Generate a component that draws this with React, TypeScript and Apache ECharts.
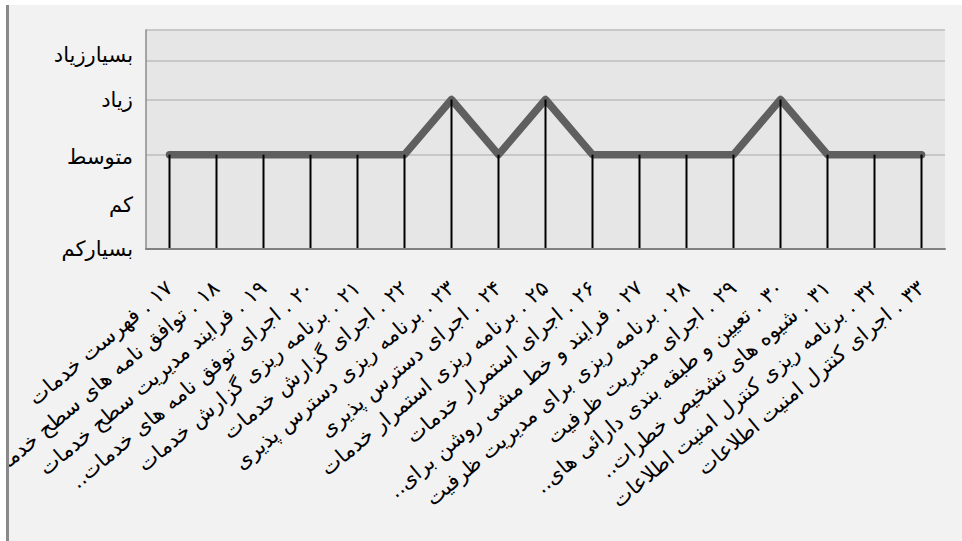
import React, { useEffect, useRef } from "react";
import * as echarts from "echarts";

const categories = [
  "۱۷ . فهرست خدمات",
  "۱۸ . توافق نامه های سطح خدمات",
  "۱۹ . فرایند مدیریت سطح خدمات",
  "۲۰ . اجرای توفق نامه های خدمات..",
  "۲۱ . برنامه ریزی گزارش خدمات",
  "۲۲ . اجرای گزارش خدمات",
  "۲۳ . برنامه ریزی دسترس پذیری",
  "۲۴ . اجرای دسترس پذیری",
  "۲۵ . برنامه ریزی استمرار خدمات",
  "۲۶ . اجرای استمرار خدمات",
  "۲۷ . فرایند و خط مشی روشن برای..",
  "۲۸ . برنامه ریزی برای مدیریت ظرفیت",
  "۲۹ . اجرای مدیریت ظرفیت",
  "۳۰ . تعیین و طبقه بندی دارائی های..",
  "۳۱ . شیوه های تشخیص خطرات..",
  "۳۲ . برنامه ریزی کنترل امنیت اطلاعات",
  "۳۳ . اجرای کنترل امنیت اطلاعات",
];

// 1 = بسیارکم ... 2 = متوسط, 3 = زیاد
const levels = [2, 2, 2, 2, 2, 2, 3, 2, 3, 2, 2, 2, 2, 3, 2, 2, 2];

const yGridValues = [1, 2, 3, 4, 5];
const yLabelValues = [1, 1.38, 1.96, 3, 4.16];
const yLabelTexts = ["بسیارکم", "کم", "متوسط", "زیاد", "بسیارزیاد"];

const FONT = "'DejaVu Sans', Arial, sans-serif";
const RLM = "\u200F";

export default function App() {
  const ref = useRef<HTMLDivElement>(null);

  useEffect(() => {
    if (!ref.current) return;
    const chart = echarts.init(ref.current, undefined, { renderer: "svg" });
    chart.setOption({
      animation: false,
      backgroundColor: "#f2f2f2",
      textStyle: { fontFamily: FONT },
      grid: {
        left: 137,
        right: 17,
        top: 25,
        bottom: 292,
        show: true,
        backgroundColor: "#e6e6e6",
        borderWidth: 0,
        containLabel: false,
        outerBoundsMode: "none",
      },
      xAxis: {
        type: "category",
        data: categories,
        boundaryGap: true,
        axisTick: { show: false },
        axisLine: { show: true, lineStyle: { color: "#808080", width: 2 } },
        axisLabel: {
          interval: 0,
          rotate: 40,
          margin: 36,
          fontSize: 21,
          color: "#000",
          fontFamily: FONT,
          formatter: (v: string) => RLM + v + RLM,
        },
        splitLine: { show: false },
        z: 10,
      },
      yAxis: {
        type: "log",
        logBase: 10,
        min: 1,
        max: 5,
        axisLine: { show: true, lineStyle: { color: "#8c8c8c", width: 1.5 } },
        axisTick: { show: false, customValues: yGridValues },
        splitLine: { show: true, lineStyle: { color: "#bdbdbd", width: 1.5 } },
        axisLabel: {
          customValues: yLabelValues,
          margin: 13,
          fontSize: 21,
          color: "#000",
          fontFamily: FONT,
          formatter: (v: number) => {
            const i = yLabelValues.findIndex((x) => Math.abs(x - v) < 1e-6);
            return i >= 0 ? yLabelTexts[i] : "";
          },
        },
      },
      series: [
        {
          type: "line",
          data: levels,
          symbol: "none",
          z: 3,
          lineStyle: { color: "#5f5f5f", width: 7.5, cap: "round", join: "round" },
        },
        {
          type: "bar",
          data: levels,
          barWidth: 2,
          z: 4,
          itemStyle: { color: "#000" },
        },
      ],
    });
    return () => chart.dispose();
  }, []);

  return (
    <div style={{ position: "absolute", left: 0, top: 0, width: 962, height: 541, background: "#fff", overflow: "hidden" }}>
      <div style={{ position: "absolute", left: 6, top: 5, width: 3, height: 536, background: "#8a8a8a" }} />
      <div ref={ref} style={{ position: "absolute", left: 9, top: 5, width: 953, height: 536, overflow: "hidden" }} />
    </div>
  );
}
